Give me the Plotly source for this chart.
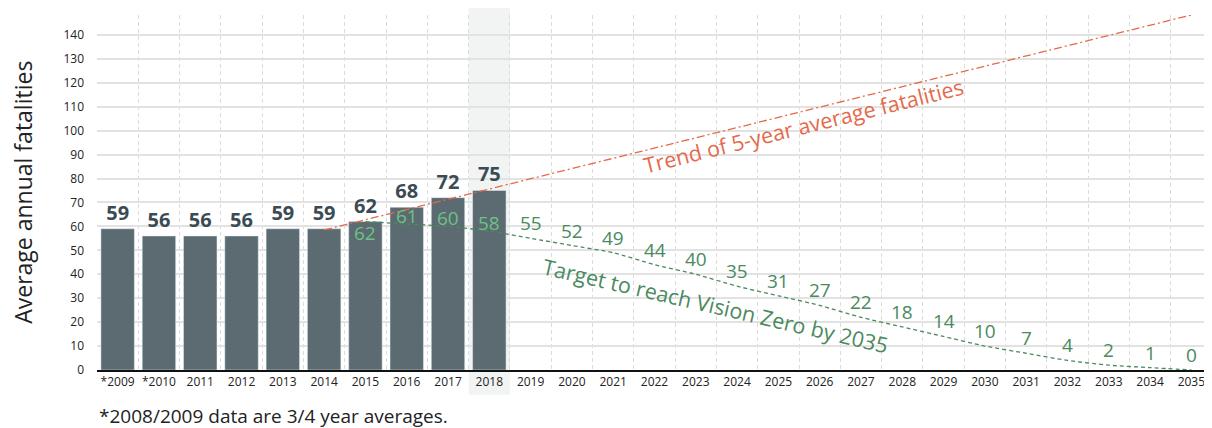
import plotly.graph_objects as go

years = ["*2009", "*2010", "2011", "2012", "2013", "2014", "2015", "2016", "2017", "2018",
         "2019", "2020", "2021", "2022", "2023", "2024", "2025", "2026", "2027", "2028",
         "2029", "2030", "2031", "2032", "2033", "2034", "2035"]
bar_years = years[:10]
bar_values = [59, 56, 56, 56, 59, 59, 62, 68, 72, 75]

target_years = years[6:]
target_values = [62, 61, 60, 58, 55, 52, 49, 44, 40, 35, 31, 27, 22, 18, 14, 10, 7, 4, 2, 1, 0]

trend_years = ["2014", "2035"]
trend_values = [58.5, 148.3]

y_ticks = list(range(0, 141, 10))

FONT = "Open Sans"
BAR_COLOR = "#5b6b71"
DARK_TEXT = "#3b4b54"
LIGHT_GREEN = "#6cc283"
DARK_GREEN = "#4a8a5e"
TREND_COLOR = "#e56a4c"

fig = go.Figure()

fig.add_trace(go.Bar(
    x=bar_years, y=bar_values, marker_color=BAR_COLOR,
    text=[str(v) for v in bar_values], textposition="outside",
    textfont=dict(family=FONT, size=20, color=DARK_TEXT, weight="bold"),
    cliponaxis=False, hoverinfo="skip",
))

fig.add_trace(go.Scatter(
    x=trend_years, y=trend_values, mode="lines",
    line=dict(color=TREND_COLOR, width=1.3, dash="8px,3px,2px,3px"), hoverinfo="skip",
))

fig.add_trace(go.Scatter(
    x=target_years, y=target_values, mode="lines",
    line=dict(color=DARK_GREEN, width=1.3, dash="4px,3px", shape="spline", smoothing=0.6),
    hoverinfo="skip",
))

annotations = []
for i, (yr, v) in enumerate(zip(target_years, target_values)):
    in_bar = yr in bar_years
    if in_bar:
        shift = -11 if i == 0 else 8
        color = LIGHT_GREEN
    else:
        shift = 15
        color = DARK_GREEN
    annotations.append(dict(
        x=years.index(yr), y=v, xref="x", yref="y", text=str(v), showarrow=False,
        xanchor="center", yanchor="middle",
        yshift=shift, font=dict(family=FONT, size=19, color=color),
    ))

annotations.append(dict(
    x=0.634, y=0.689, xref="paper", yref="paper", xanchor="center", yanchor="middle",
    text="Trend of 5-year average fatalities", showarrow=False, textangle=-14,
    font=dict(family=FONT, size=21.5, color=TREND_COLOR),
))
annotations.append(dict(
    x=0.555, y=0.183, xref="paper", yref="paper", xanchor="center", yanchor="middle",
    text="Target to reach Vision Zero by 2035", showarrow=False, textangle=13,
    font=dict(family=FONT, size=21.5, color=DARK_GREEN),
))
annotations.append(dict(
    x=-0.067, y=0.5, xref="paper", yref="paper", xanchor="center", yanchor="middle",
    text="Average annual fatalities", showarrow=False, textangle=-90,
    font=dict(family=FONT, size=23, color="#222"),
))
annotations.append(dict(
    x=0, y=-0.13, xref="paper", yref="paper", xanchor="left", yanchor="middle",
    text="*2008/2009 data are 3/4 year averages.", showarrow=False,
    font=dict(family=FONT, size=19, color="#222"),
))

shapes = [dict(
    type="rect", xref="x", yref="paper", x0=8.5, x1=9.5, y0=-0.07, y1=1.02,
    fillcolor="#f2f4f3", line=dict(width=0), layer="below",
)]

# page body has an 8px margin, so the figure is 8px smaller and margins shifted
fig.update_layout(
    width=1204, height=420,
    margin=dict(l=89, r=0, t=7, b=58),
    paper_bgcolor="white", plot_bgcolor="white",
    showlegend=False, bargap=0.19,
    font=dict(family=FONT, color="#222"),
    annotations=annotations, shapes=shapes,
    xaxis=dict(
        type="category", categoryorder="array", categoryarray=years,
        range=[-0.5, len(years) - 0.5],
        tickson="boundaries", ticks="", showgrid=True, gridcolor="#dcdcdc",
        griddash="4px,3px", gridwidth=1, tickangle=0,
        showline=True, linecolor="#111", linewidth=2,
        tickfont=dict(family=FONT, size=12, color="#222"),
        fixedrange=True,
    ),
    yaxis=dict(
        range=[0, 148.3], tickvals=y_ticks, showgrid=True, gridcolor="#e2e2e2",
        gridwidth=2, zeroline=False, ticks="", ticklabelstandoff=12,
        tickfont=dict(family=FONT, size=12, color="#222"),
        fixedrange=True,
    ),
)

fig.write_html("out.html")
